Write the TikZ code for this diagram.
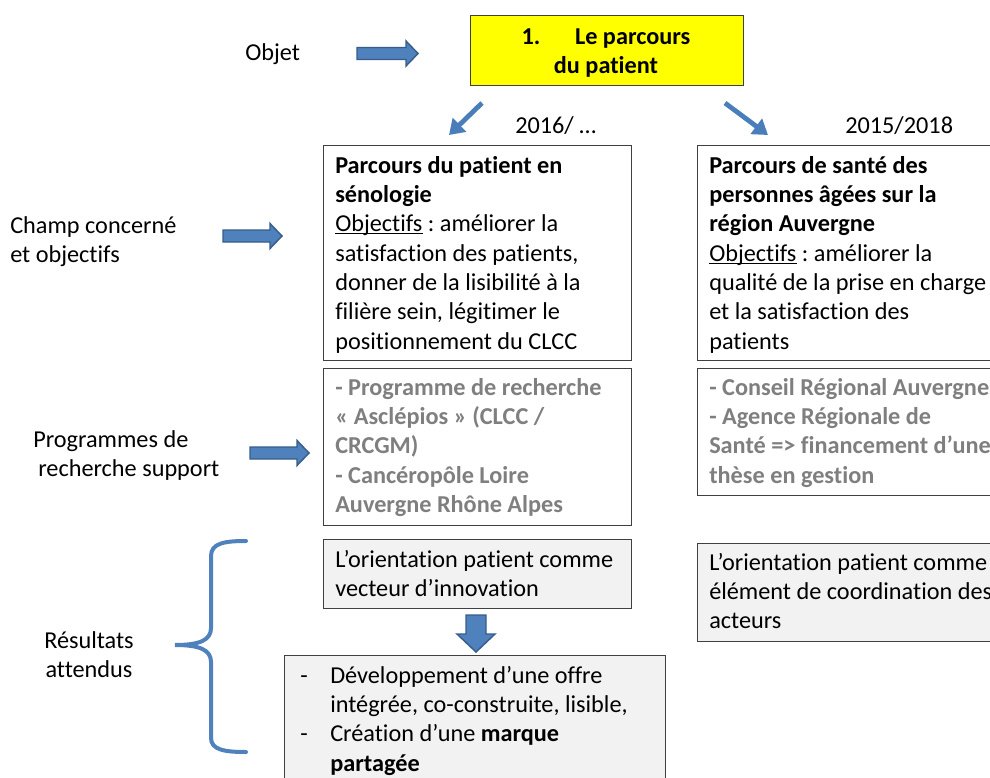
\documentclass[tikz,border=0pt]{standalone}
\usepackage{fontspec}
\setmainfont{Carlito}[Ligatures={TeX,NoCommon}]
\usetikzlibrary{arrows.meta}
\frenchspacing
\definecolor{arrowblue}{HTML}{4F81BD}
\definecolor{arrowedge}{HTML}{385D8A}
\definecolor{thinblue}{HTML}{4A7EBB}
\definecolor{boxgray}{HTML}{F2F2F2}
\definecolor{gtext}{HTML}{7F7F7F}
\definecolor{ylw}{HTML}{FFFF00}
\newcommand\fl{\rule{0pt}{18pt}}
\newcommand\myul[1]{\setbox0\hbox{#1}\rlap{\rule[-1.8pt]{\wd0}{0.75pt}}\box0\relax}
\newcommand\rblockarrow[4]{\filldraw[barrow] (#1,#4-6) -- (#2,#4-6) -- (#2,#4-12.5) -- (#3,#4) -- (#2,#4+12.5) -- (#2,#4+6) -- (#1,#4+6) -- cycle;}
\begin{document}
\begin{tikzpicture}[x=0.75pt,y=-0.75pt,
  box/.style={draw=black!75, line width=0.9pt, inner sep=0pt, anchor=north west},
  txt/.style={inner sep=0pt, anchor=north west, align=left, font=\fontsize{18.2}{22}\selectfont},
  ctxt/.style={inner sep=0pt, anchor=north, align=center, font=\fontsize{18.2}{22}\selectfont},
  gray text/.style={txt, text=gtext, font=\fontsize{18.2}{22}\selectfont\bfseries},
  barrow/.style={fill=arrowblue, draw=arrowedge, line width=1.1pt, line join=miter},
  darrow/.style={draw=thinblue, line width=3.6pt, -{Triangle[length=11pt,width=14pt]}},
  bracestyle/.style={draw=arrowblue, line width=3pt, line cap=round}]
\clip (0,0) rectangle (990,778);
\fill[white] (0,0) rectangle (990,778);

% boxes
\node[box, fill=ylw, minimum width={273*0.75pt}, minimum height={70*0.75pt}] (top) at (470,15) {};
\node[box, minimum width={308*0.75pt}, minimum height={215*0.75pt}] (b1) at (323,145) {};
\node[box, minimum width={308*0.75pt}, minimum height={157*0.75pt}] (b2) at (323,368) {};
\node[box, minimum width={330*0.75pt}, minimum height={215*0.75pt}] (r1) at (697,145) {};
\node[box, minimum width={330*0.75pt}, minimum height={127*0.75pt}] (r2) at (697,368) {};
\node[box, fill=boxgray, minimum width={308*0.75pt}, minimum height={69*0.75pt}] (b3) at (323,539) {};
\node[box, fill=boxgray, minimum width={330*0.75pt}, minimum height={98*0.75pt}] (r3) at (697,543) {};
\node[box, fill=boxgray, minimum width={381*0.75pt}, minimum height={150*0.75pt}] (b4) at (284,655) {};

% texts
\node[ctxt, font=\fontsize{18.2}{22}\selectfont\bfseries] (toptxt) at (606,20) {\fl 1.\hspace{26pt}Le parcours\\du patient};
\node[txt] (t1) at (335,149) {\fl\textbf{Parcours du patient en}\\
\textbf{sénologie}\\
\myul{Objectifs} : améliorer la\\
satisfaction des patients,\\
donner de la lisibilité à la\\
filière sein, légitimer le\\
positionnement du CLCC};
\node[gray text] (t2) at (335,371) {\fl - Programme de recherche\\
« Asclépios » (CLCC /\\
CRCGM)\\
- Cancéropôle Loire\\
Auvergne Rhône Alpes};
\node[txt] (tr1) at (709,149) {\fl\textbf{Parcours de santé des}\\
\textbf{personnes âgées sur la}\\
\textbf{région Auvergne}\\
\myul{Objectifs} : améliorer la\\
qualité de la prise en charge\\
et la satisfaction des\\
patients};
\node[gray text] (tr2) at (709,371) {\fl - Conseil Régional Auvergne\\
- Agence Régionale de\\
Santé => financement d’une\\
thèse en gestion};
\node[txt] (t3) at (335,543) {\fl L’orientation patient comme\\vecteur d’innovation};
\node[txt] (tr3) at (709,546) {\fl L’orientation patient comme\\élément de coordination des\\acteurs};
\node[txt] (t4) at (300,659) {\fl\makebox[22.5pt][l]{-}Développement d’une offre\\
\hspace*{22.5pt}intégrée, co-construite, lisible,\\
\makebox[22.5pt][l]{-}Création d’une \textbf{marque}\\
\hspace*{22.5pt}\textbf{partagée}};

% labels
\node[txt] (objet) at (245,36) {\fl Objet};
\node[txt] (y1) at (515,109) {\fl 2016/ …};
\node[txt] (y2) at (845,109) {\fl 2015/2018};
\node[txt] (champ) at (10,209) {\fl Champ concerné\\et objectifs};
\node[txt] (prog) at (33,423) {\fl Programmes de\\\hspace*{3.75pt}recherche support};
\node[ctxt] (res) at (89,624) {\fl Résultats\\attendus};

% block arrows
\rblockarrow{357}{406}{418}{53.5}
\rblockarrow{223}{270}{282}{236}
\rblockarrow{250}{297}{309}{453}
\filldraw[barrow] (466,615) -- (486,615) -- (486,634) -- (495,634) -- (476,652) -- (457,634) -- (466,634) -- cycle;

% thin diagonal arrows
\coordinate (d1s) at (482,103);
\coordinate (d1e) at (449,135);
\coordinate (d2s) at (725,103);
\coordinate (d2e) at (768,135);
\draw[darrow] (d1s) -- (d1e);
\draw[darrow] (d2s) -- (d2e);

% brace
\draw[bracestyle] (246,541) .. controls (225,541) and (211,543) .. (211,556) -- (211,628)
  .. controls (211,640) and (200,645) .. (175,645)
  .. controls (200,645) and (211,650) .. (211,662) -- (211,738)
  .. controls (211,750) and (225,752) .. (246,752);
\end{tikzpicture}
\end{document}
